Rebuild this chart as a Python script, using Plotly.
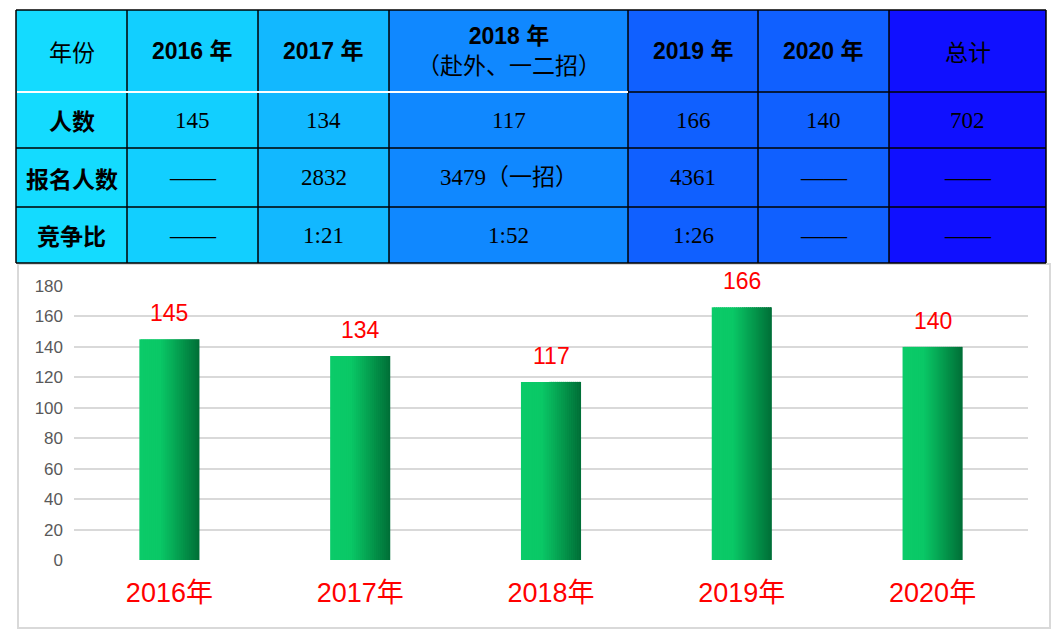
import plotly.graph_objects as go

# ---------------- data ----------------
years = ["2016年", "2017年", "2018年", "2019年", "2020年"]
counts = [145, 134, 117, 166, 140]
total_count = 702
header_labels = ["年份", "2016 年", "2017 年", "2018 年", "2019 年", "2020 年", "总计"]
header_note_2018 = "（赴外、一二招）"
row_labels = ["人数", "报名人数", "竞争比"]
applicants = ["——", "2832", "3479（一招）", "4361", "——", "——"]
ratios = ["——", "1:21", "1:52", "1:26", "——", "——"]
y_ticks = [0, 20, 40, 60, 80, 100, 120, 140, 160, 180]

# ---------------- layout constants ----------------
W, H = 1060, 635
col_edges = [16, 127, 258, 389, 628, 758, 889, 1046]
row_edges = [10, 92, 148, 207, 263]
col_colors = ["#14DBFF", "#12CFFF", "#12B8FF", "#1088FF", "#1060FF", "#1060FF", "#1010FF"]

SANS = "Liberation Sans, Arial, Noto Sans CJK SC"
SERIF = "Liberation Serif, Times New Roman, Noto Sans CJK SC"
CJK = "Noto Sans CJK SC"

fig = go.Figure()

# ---------------- table (on hidden pixel axes x2/y2) ----------------
ncol = len(col_edges) - 1
nrow = len(row_edges) - 1
z = [[c for c in range(ncol)] for _ in range(nrow)]
cscale = [[i / (ncol - 1), col_colors[i]] for i in range(ncol)]
fig.add_trace(go.Heatmap(
    x=col_edges, y=row_edges, z=z, colorscale=cscale, zmin=0, zmax=ncol - 1,
    showscale=False, hoverinfo="skip", xaxis="x2", yaxis="y2",
))

# grid lines
bx, by = [], []
for xe in col_edges:
    bx += [xe, xe, None]
    by += [row_edges[0], row_edges[-1], None]
for k, ye in enumerate(row_edges):
    if k == 1:
        bx += [col_edges[4], col_edges[-1], None]
    else:
        bx += [col_edges[0], col_edges[-1], None]
    by += [ye, ye, None]
fig.add_trace(go.Scatter(x=bx, y=by, mode="lines", line=dict(color="black", width=1.5),
                         hoverinfo="skip", showlegend=False, xaxis="x2", yaxis="y2"))
fig.add_trace(go.Scatter(x=[col_edges[0] + 1, col_edges[4]], y=[row_edges[1], row_edges[1]],
                         mode="lines", line=dict(color="white", width=2),
                         hoverinfo="skip", showlegend=False, xaxis="x2", yaxis="y2"))

def cx(i):
    return (col_edges[i] + col_edges[i + 1]) / 2

def cy(j):
    return (row_edges[j] + row_edges[j + 1]) / 2

annos = []
def cell(i, j, text, family, size=22, bold=False):
    annos.append(dict(xref="x2", yref="y2", x=cx(i), y=cy(j), text=text, showarrow=False,
                      xanchor="center", yanchor="middle",
                      font=dict(family=family, size=size, color="black",
                                weight="bold" if bold else "normal")))

# header row
for i, lab in enumerate(header_labels):
    if i == 0 or i == ncol - 1:
        cell(i, 0, lab, CJK, 23)
    elif lab.startswith("2018"):
        cell(i, 0, "<b>" + lab + "</b><br>" + header_note_2018, SANS + ", " + CJK, 23)
    else:
        cell(i, 0, lab, SANS, 23, bold=True)

# row labels
for j, lab in enumerate(row_labels):
    cell(0, j + 1, lab, CJK, 23, bold=True)

count_cells = [str(v) for v in counts] + [str(total_count)]
for i, v in enumerate(count_cells):
    cell(i + 1, 1, v, SERIF, 23)
for i, v in enumerate(applicants):
    cell(i + 1, 2, v, SERIF, 23)
for i, v in enumerate(ratios):
    cell(i + 1, 3, v, SERIF, 23)

# ---------------- bar chart ----------------
bar_w = 0.315
N = 30
stops = [(0.0, (11, 203, 105)), (0.35, (10, 200, 102)), (0.7, (4, 152, 76)), (1.0, (0, 110, 55))]

def grad(t):
    for k in range(len(stops) - 1):
        t0, c0 = stops[k]
        t1, c1 = stops[k + 1]
        if t0 <= t <= t1:
            f = (t - t0) / (t1 - t0)
            return "rgb(%d,%d,%d)" % tuple(round(c0[m] + (c1[m] - c0[m]) * f) for m in range(3))
    return "rgb(%d,%d,%d)" % stops[-1][1]

sw = bar_w / N
for i in range(N):
    t = (i + 0.5) / N
    w = sw * 1.6 if i < N - 1 else sw
    fig.add_trace(go.Bar(
        x=years, y=counts, width=[w] * len(years), offset=[-bar_w / 2 + i * sw] * len(years),
        marker=dict(color=grad(t), line=dict(width=0)),
        hoverinfo="skip", showlegend=False, xaxis="x", yaxis="y",
    ))

for yr, v in zip(years, counts):
    annos.append(dict(xref="x", yref="y", x=yr, y=v, text=str(v), showarrow=False,
                      xanchor="center", yanchor="bottom", yshift=11,
                      font=dict(family=SANS, size=23, color="#FF0000")))

# chart frame
shapes = [dict(type="rect", xref="paper", yref="paper", x0=18 / W, x1=1050 / W,
               y0=1 - 628 / H, y1=1 - 264 / H,
               line=dict(color="#D9D9D9", width=2), fillcolor="rgba(0,0,0,0)", layer="below")]

fig.update_layout(
    width=W, height=H, margin=dict(l=0, r=0, t=0, b=0, pad=0, autoexpand=False),
    paper_bgcolor="white", plot_bgcolor="rgba(0,0,0,0)",
    barmode="overlay", showlegend=False,
    annotations=annos, shapes=shapes,
    xaxis=dict(domain=[74 / W, 1028 / W], type="category", range=[-0.5, 4.5],
               showgrid=False, showline=False, zeroline=False, ticks="", automargin=False,
               tickfont=dict(family=SANS, size=27, color="#FF0000"),
               ticklabelstandoff=14, anchor="y"),
    yaxis=dict(domain=[1 - 560 / H, 1 - 286 / H], range=[0, 180], tickvals=y_ticks,
               showgrid=True, gridcolor="#D9D9D9", gridwidth=1.5, zeroline=False,
               showline=False, ticks="", automargin=False,
               tickfont=dict(family=SANS, size=17, color="#595959"),
               ticklabelstandoff=10, anchor="x"),
    xaxis2=dict(domain=[0, 1], range=[0, W], visible=False, anchor="y2", fixedrange=True,
                automargin=False),
    yaxis2=dict(domain=[0, 1], range=[H, 0], visible=False, anchor="x2", fixedrange=True,
                automargin=False),
)

fig.write_html("out.html")
